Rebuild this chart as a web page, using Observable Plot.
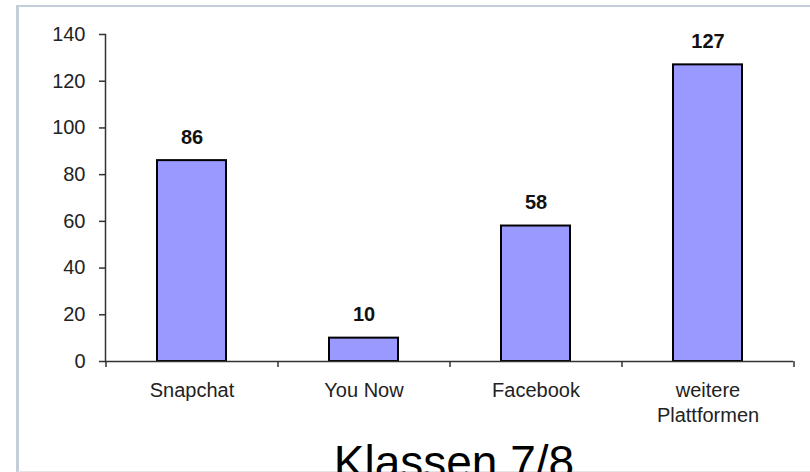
<!DOCTYPE html>
<html>
<head>
<meta charset="utf-8">
<script src="https://cdn.jsdelivr.net/npm/d3@7"></script>
<script src="https://cdn.jsdelivr.net/npm/@observablehq/plot@0.6"></script>
<style>
  html, body { margin: 0; padding: 0; background: #fff; }
  #wrap { position: relative; width: 810px; height: 472px; overflow: hidden; background: #fff; }
  #frame { position: absolute; left: 16px; top: 5px; width: 810px; height: 464px;
           border-left: 3px solid #c3ced9; border-top: 2px solid #c3ced9; border-bottom: 1px solid #e4e4e4; }
  #chart { position: absolute; left: 0; top: 0; }
  #title { position: absolute; left: 0; top: 439px; width: 908px; text-align: center;
           font-family: "Liberation Sans", Arial, sans-serif; font-size: 46px; line-height: 46px; color: #000; }
</style>
</head>
<body>
<div id="wrap">
  <div id="frame"></div>
  <div id="chart"></div>
  <div id="title">Klassen 7/8</div>
</div>
<script>
const categories = ["Snapchat", "You Now", "Facebook", "weitere Plattformen"];
const tickLabels = ["Snapchat", "You Now", "Facebook", "weitere\nPlattformen"];
const values = [86, 10, 58, 127];
const yTicks = [0, 20, 40, 60, 80, 100, 120, 140];

const data = categories.map((c, i) => ({category: c, value: values[i]}));
const labelOf = new Map(categories.map((c, i) => [c, tickLabels[i]]));

const plot = Plot.plot({
  width: 810,
  height: 472,
  marginLeft: 105,
  marginRight: 17,
  marginTop: 34,
  marginBottom: 111,
  style: {fontFamily: "'Liberation Sans', Arial, sans-serif", fontSize: "20px", color: "#222", background: "transparent"},
  x: {domain: categories, paddingInner: 0.6, paddingOuter: 0.3, axis: null},
  y: {domain: [0, 140], axis: null},
  marks: [
    Plot.barY(data, {x: "category", y: "value", fill: "#9999ff", stroke: "#000", strokeWidth: 2}),
    Plot.frame({anchor: "left", stroke: "#333", strokeWidth: 1.5}),
    Plot.ruleY([0], {stroke: "#333", strokeWidth: 1.5}),
    Plot.axisY({ticks: yTicks, tickSize: 6, tickPadding: 14, fontSize: 20, stroke: "#333", strokeWidth: 1.5, label: null, fill: "#222"}),
    Plot.axisX({tickSize: 0, tickPadding: 18, fontSize: 20, lineHeight: 1.25, label: null, fill: "#222",
                tickFormat: d => labelOf.get(d)}),
    Plot.ruleX(categories, {x: d => d, y1: 0, y2: 0, dx: -86, insetBottom: -6, stroke: "#333", strokeWidth: 1.5}),
    Plot.ruleX(categories.slice(-1), {x: d => d, y1: 0, y2: 0, dx: 86, insetBottom: -6, stroke: "#333", strokeWidth: 1.5}),
    Plot.text(data, {x: "category", y: "value", text: d => String(d.value), dy: -17, lineAnchor: "bottom",
                     fontWeight: "bold", fontSize: 20, fill: "#111"})
  ]
});
document.getElementById("chart").appendChild(plot);
</script>
</body>
</html>
